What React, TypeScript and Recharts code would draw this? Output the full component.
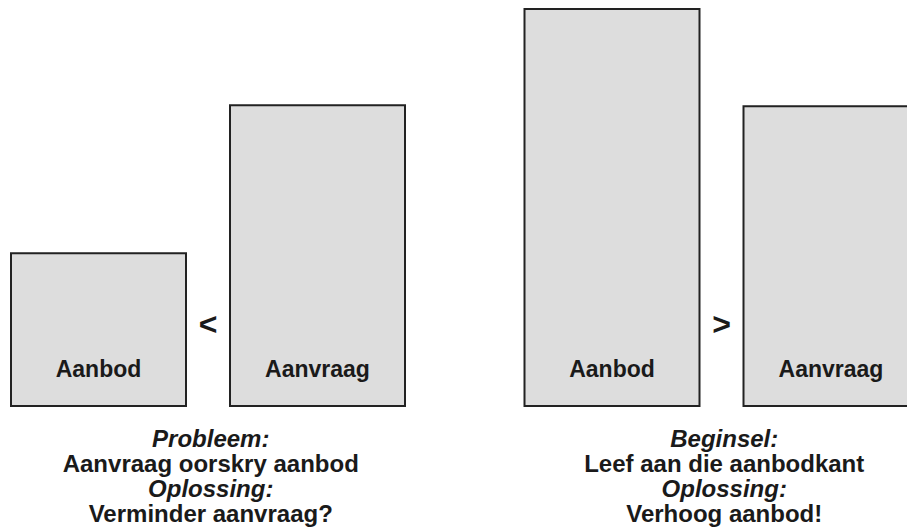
import React from 'react'
import { BarChart, Bar, XAxis, YAxis, LabelList } from 'recharts'

const groups = ['Probleem', 'Beginsel']
const aanbod = [1.54, 4]
const aanvraag = [3.03, 3.02]
const comparison = ['<', '>']
const headings = ['Probleem:', 'Beginsel:']
const statements = ['Aanvraag oorskry aanbod', 'Leef aan die aanbodkant']
const solutionHeading = 'Oplossing:'
const solutions = ['Verminder aanvraag?', 'Verhoog aanbod!']

const data = groups.map((g, i) => ({
    group: g,
    Aanbod: aanbod[i],
    Aanvraag: aanvraag[i],
    cmp: comparison[i],
}))

const font = '"Liberation Sans", Arial, Helvetica, sans-serif'

const nameLabel = (name: string) => (props: any) => {
    const { x, y, width, height } = props
    return (
        <text
            x={x + width / 2}
            y={y + height - 29}
            textAnchor="middle"
            fontFamily={font}
            fontWeight="bold"
            fontSize={23}
            fill="#1a1a1a"
        >
            {name}
        </text>
    )
}

const cmpLabel = (props: any) => {
    const { x, y, width, height, value } = props
    return (
        <text
            x={x + width + 22}
            y={y + height - 71}
            textAnchor="middle"
            fontFamily={font}
            fontWeight="bold"
            fontSize={32}
            fill="#1a1a1a"
        >
            {value}
        </text>
    )
}

const GroupTick = (props: any) => {
    const { x, y, payload } = props
    const i = groups.indexOf(payload.value)
    const lines = [
        { t: headings[i], italic: true },
        { t: statements[i], italic: false },
        { t: solutionHeading, italic: true },
        { t: solutions[i], italic: false },
    ]
    return (
        <text
            x={x + 3}
            y={y}
            textAnchor="middle"
            fontFamily={font}
            fontWeight="bold"
            fontSize={24}
            fill="#1a1a1a"
        >
            {lines.map((l, k) => (
                <tspan
                    key={k}
                    x={x + 3}
                    y={y + 41 + k * 25}
                    fontStyle={l.italic ? 'italic' : 'normal'}
                >
                    {l.t}
                </tspan>
            ))}
        </text>
    )
}

export default function App() {
    return (
        <div
            style={{
                position: 'absolute',
                left: 0,
                top: 0,
                width: 907,
                height: 531,
                overflow: 'hidden',
                background: '#ffffff',
            }}
        >
            <div style={{ marginLeft: -49 }}>
                <BarChart
                    width={1027}
                    height={531}
                    data={data}
                    margin={{ top: 9, right: 0, bottom: 0, left: 0 }}
                    barSize={175}
                    barGap={44}
                >
                    <XAxis
                        dataKey="group"
                        axisLine={false}
                        tickLine={false}
                        tickSize={0}
                        tickMargin={0}
                        height={125}
                        interval={0}
                        tick={<GroupTick />}
                    />
                    <YAxis hide domain={[0, 4]} />
                    <Bar
                        dataKey="Aanbod"
                        fill="#dddddd"
                        stroke="#222222"
                        strokeWidth={2}
                        isAnimationActive={false}
                    >
                        <LabelList dataKey="Aanbod" content={nameLabel('Aanbod')} />
                        <LabelList dataKey="cmp" content={cmpLabel} />
                    </Bar>
                    <Bar
                        dataKey="Aanvraag"
                        fill="#dddddd"
                        stroke="#222222"
                        strokeWidth={2}
                        isAnimationActive={false}
                    >
                        <LabelList dataKey="Aanvraag" content={nameLabel('Aanvraag')} />
                    </Bar>
                </BarChart>
            </div>
        </div>
    )
}
